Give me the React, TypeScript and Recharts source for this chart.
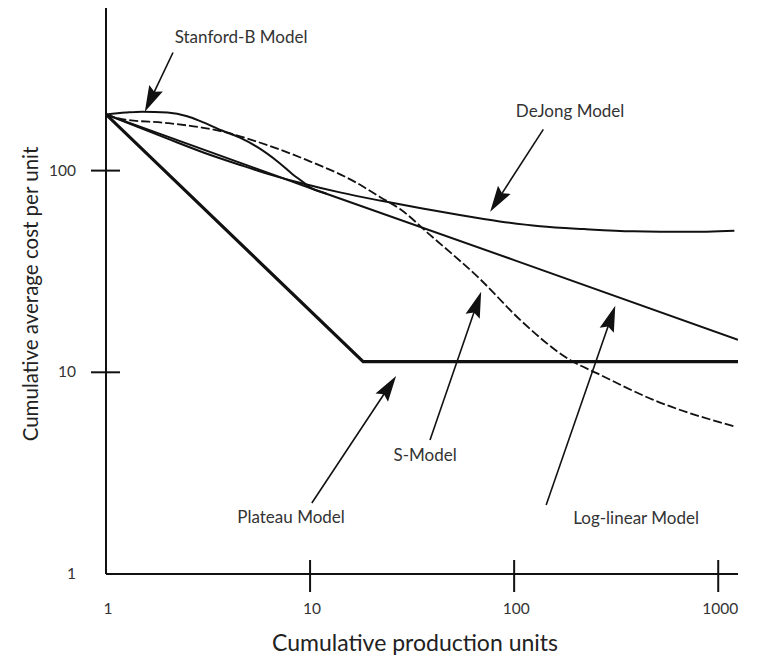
import { LineChart, Line, XAxis, YAxis, ReferenceLine, ReferenceDot } from "recharts";

// ─── Data ───
const xTicks = [1, 10, 100, 1000];
const yTicks = [1, 10, 100];

const logLinearUnits = [1, 10, 100, 1250];
const logLinearCost = [190, 82, 36, 14.5];

const plateauUnits = [1, 18.2, 1250];
const plateauCost = [190, 11.3, 11.3];

const stanfordUnits = [1, 1.25, 1.5, 2, 2.5, 2.9, 3.7, 4.5, 5.5, 7, 8.2, 9.2, 10, 12];
const stanfordCost = [190, 194, 196, 194, 186, 176, 158, 146, 131, 110, 96, 88, 82.5, 77];

const dejongUnits = [1, 2, 3, 4.5, 6.5, 9.2, 14, 22, 35, 55, 85, 134, 220, 383, 700, 1200];
const dejongCost = [190, 144, 123, 107, 95, 86.4, 78, 71, 65, 60, 56, 53, 51.3, 50, 49.7, 50.4];

const sModelUnits = [1, 1.2, 2, 3, 3.75, 5.4, 9.6, 16.9, 22, 27.6, 38.7, 68, 107, 188, 254, 481, 1190];
const sModelCost = [190, 180, 172, 163, 156, 140, 113, 87, 74, 64.5, 48, 29, 18.2, 11.5, 9.9, 7.3, 5.4];

// annotation arrows: tail -> tip, plus label centre (data coordinates)
const notes = [
  { text: "Stanford-B Model", tail: [2.13, 385], tip: [1.55, 196], label: [4.59, 462] },
  { text: "DeJong Model", tail: [139, 160], tip: [76.3, 62.6], label: [188, 199] },
  { text: "Plateau Model", tail: [10.2, 2.25], tip: [26.4, 9.6], label: [8.07, 1.92] },
  { text: "S-Model", tail: [38.7, 4.62], tip: [68.9, 25.1], label: [36.6, 3.9] },
  { text: "Log-linear Model", tail: [143.5, 2.2], tip: [313, 21.4], label: [396, 1.9] },
];

const zip = (xs: number[], ys: number[]) => xs.map((x, i) => ({ x, y: ys[i] }));

const FONT = "Lato, 'Open Sans', sans-serif";
const INK = "#111";

// ─── Ticks that cross the axis line ───
function XTick({ x, y, payload }: any) {
  return (
    <g>
      {payload.value !== 1 && (
        <line x1={x} x2={x} y1={y - 14} y2={y + 18} stroke={INK} strokeWidth={2} />
      )}
      <text x={x + 2} y={y + 40} textAnchor="middle" fontSize={15.5} fill="#333" fontFamily={FONT}>
        {payload.value}
      </text>
    </g>
  );
}

function YTick({ x, y, payload }: any) {
  return (
    <g>
      {payload.value !== 1 && (
        <line x1={x - 15} x2={x + 14} y1={y} y2={y} stroke={INK} strokeWidth={2} />
      )}
      <text x={x - 30} y={y + 5} textAnchor="end" fontSize={15.5} fill="#333" fontFamily={FONT}>
        {payload.value}
      </text>
    </g>
  );
}

// ─── Arrow with filled head ───
function Arrow({ x1, y1, x2, y2 }: any) {
  const dx = x2 - x1;
  const dy = y2 - y1;
  const len = Math.hypot(dx, dy) || 1;
  const ux = dx / len;
  const uy = dy / len;
  const head = 26;
  const half = 7.5;
  const bx = x2 - ux * head;
  const by = y2 - uy * head;
  const pts = `${x2},${y2} ${bx - uy * half},${by + ux * half} ${bx + ux * 4},${by + uy * 4} ${bx + uy * half},${by - ux * half}`;
  return (
    <g>
      <line x1={x1} y1={y1} x2={bx + ux * 6} y2={by + uy * 6} stroke={INK} strokeWidth={1.6} />
      <polygon points={pts} fill={INK} />
    </g>
  );
}

function NoteText(text: string) {
  return ({ cx, cy }: any) => (
    <text x={cx} y={cy} textAnchor="middle" dominantBaseline="central" fontSize={17} fill="#333" fontFamily={FONT}>
      {text}
    </text>
  );
}

export default function App() {
  return (
    <div style={{ fontFamily: FONT }}>
      <LineChart width={749} height={650} margin={{ top: 0, right: 19, bottom: 0, left: 0 }}>
        <XAxis
          type="number"
          dataKey="x"
          scale="log"
          domain={[1, 1250]}
          allowDataOverflow
          ticks={xTicks}
          interval={0}
          height={84}
          tickSize={0}
          tickMargin={0}
          tickLine={false}
          axisLine={{ stroke: INK, strokeWidth: 2 }}
          tick={<XTick />}
          label={({ viewBox }: any) => (
            <text
              x={viewBox.x + viewBox.width / 2 - 7}
              y={viewBox.y + 77}
              textAnchor="middle"
              fontSize={23}
              fill="#222"
              fontFamily={FONT}
            >
              Cumulative production units
            </text>
          )}
        />
        <YAxis
          type="number"
          dataKey="y"
          scale="log"
          domain={[1, 640]}
          allowDataOverflow
          ticks={yTicks}
          interval={0}
          width={98}
          tickSize={0}
          tickMargin={0}
          tickLine={false}
          axisLine={{ stroke: INK, strokeWidth: 2 }}
          tick={<YTick />}
          label={({ viewBox }: any) => {
            const cx = viewBox.x + 22;
            const cy = viewBox.y + viewBox.height / 2 + 3;
            return (
              <text
                x={cx}
                y={cy}
                transform={`rotate(-90 ${cx} ${cy})`}
                textAnchor="middle"
                dominantBaseline="central"
                fontSize={20.5}
                fill="#222"
                fontFamily={FONT}
              >
                Cumulative average cost per unit
              </text>
            );
          }}
        />

        <Line data={zip(plateauUnits, plateauCost)} dataKey="y" type="linear" stroke={INK} strokeWidth={3.2} dot={false} isAnimationActive={false} />
        <Line data={zip(logLinearUnits, logLinearCost)} dataKey="y" type="linear" stroke={INK} strokeWidth={2} dot={false} isAnimationActive={false} />
        <Line data={zip(dejongUnits, dejongCost)} dataKey="y" type="monotone" stroke={INK} strokeWidth={2} dot={false} isAnimationActive={false} />
        <Line data={zip(stanfordUnits, stanfordCost)} dataKey="y" type="monotone" stroke={INK} strokeWidth={2} dot={false} isAnimationActive={false} />
        <Line
          data={zip(sModelUnits, sModelCost)}
          dataKey="y"
          type="monotone"
          stroke={INK}
          strokeWidth={1.8}
          strokeDasharray="9 3"
          dot={false}
          isAnimationActive={false}
        />

        {notes.map((n) => (
          <ReferenceLine
            key={`arrow-${n.text}`}
            segment={[
              { x: n.tail[0], y: n.tail[1] },
              { x: n.tip[0], y: n.tip[1] },
            ]}
            ifOverflow="visible"
            shape={<Arrow />}
          />
        ))}
        {notes.map((n) => (
          <ReferenceDot
            key={`label-${n.text}`}
            x={n.label[0]}
            y={n.label[1]}
            r={0}
            ifOverflow="visible"
            shape={NoteText(n.text)}
          />
        ))}
      </LineChart>
    </div>
  );
}
